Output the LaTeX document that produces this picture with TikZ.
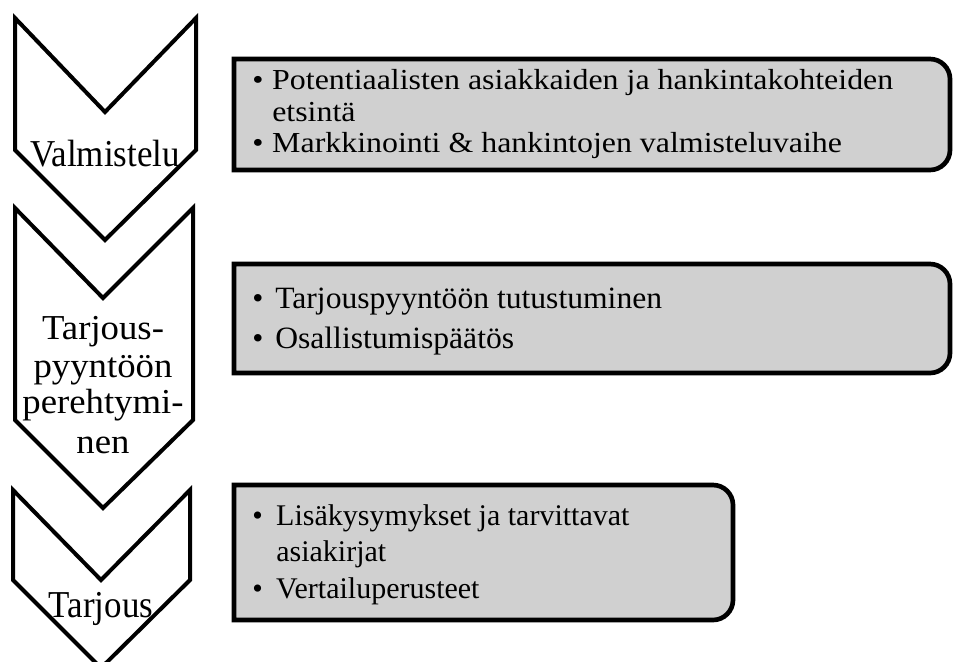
\documentclass[tikz,border=0pt]{standalone}
\usepackage{fontspec}
\setmainfont{Liberation Serif}
\newfontfamily\labfont[FakeStretch=0.92]{Liberation Serif}
\newfontfamily\labwidefont[FakeStretch=1.05]{Liberation Serif}
\newfontfamily\itemwidefont[FakeStretch=1.1]{Liberation Serif}
\newfontfamily\itemfont[FakeStretch=1.02]{Liberation Serif}
\usepackage{tikz}
\usetikzlibrary{positioning}
\definecolor{boxgray}{RGB}{208,208,208}

\begin{document}
\begin{tikzpicture}[x=0.75pt, y=-0.75pt,
  chevron/.style={draw=black, line width=3pt, fill=white},
  stagebox/.style={draw=black, line width=3.5pt, fill=boxgray},
  stagelab/.style={inner sep=0pt, anchor=base},
  itemtxt/.style={inner sep=0pt, anchor=base west}]

\useasboundingbox (0,0) rectangle (953,661);

% Chevrons (top, notch, side bottom, left, right, middle)
\foreach \t/\n/\b/\l/\r/\c in {18/112/150/15/196/105, 208/298/420/15/193/103, 490/580/580/13/190/101} {
    \draw[chevron] (\l,\t) -- (\c,\n) -- (\r,\t) -- (\r,\b) -- (\c,{\b+(\c-\l)}) -- (\l,\b) -- cycle;
}

% Grey boxes, rounded on the right only
\foreach \t/\b/\r in {59/170/950, 264/373/950, 485/620/733} {
    \draw[stagebox] (234,\t) -- ({\r-20},\t) .. controls ({\r-9},\t) and (\r,{\t+9}) .. (\r,{\t+20})
        -- (\r,{\b-20}) .. controls (\r,{\b-9}) and ({\r-9},\b) .. ({\r-20},\b) -- (234,\b) -- cycle;
}

% Stage labels
\node[stagelab, font=\labfont\fontsize{28.5pt}{34pt}\selectfont] (valm) at (105,166) {Valmistelu};
\foreach \y/\t [count=\i] in {339/Tarjous-, 377/pyyntöön, 413/perehtymi-, 453/nen} {
    \node[stagelab, font=\labwidefont\fontsize{26.25pt}{28.5pt}\selectfont] (pere\i) at (103,\y) {\t};
}
\node[stagelab, font=\labfont\fontsize{28.5pt}{34pt}\selectfont] (tarj) at (101,617) {Tarjous};

% Box 1 items
\node[itemtxt, font=\itemwidefont\fontsize{21.75pt}{23.6pt}\selectfont] (item1a) at (252,89)
    {\makebox[15pt][l]{•}Potentiaalisten asiakkaiden ja hankintakohteiden};
\node[itemtxt, font=\itemwidefont\fontsize{21.75pt}{23.6pt}\selectfont] (item1b) at (272,121) {etsintä};
\node[itemtxt, font=\itemwidefont\fontsize{21.75pt}{23.6pt}\selectfont] (item1c) at (252,152)
    {\makebox[15pt][l]{•}Markkinointi \& hankintojen valmisteluvaihe};

% Box 2 items
\node[itemtxt, font=\itemfont\fontsize{23.25pt}{30pt}\selectfont] (item2a) at (252,308)
    {\makebox[17.25pt][l]{•}Tarjouspyyntöön tutustuminen};
\node[itemtxt, font=\itemfont\fontsize{23.25pt}{30pt}\selectfont] (item2b) at (252,348)
    {\makebox[17.25pt][l]{•}Osallistumispäätös};

% Box 3 items
\node[itemtxt, font=\rmfamily\fontsize{22.5pt}{27pt}\selectfont] (item3a) at (252,525)
    {\makebox[18pt][l]{•}Lisäkysymykset ja tarvittavat};
\node[itemtxt, font=\rmfamily\fontsize{22.5pt}{27pt}\selectfont] (item3b) at (276,561) {asiakirjat};
\node[itemtxt, font=\rmfamily\fontsize{22.5pt}{27pt}\selectfont] (item3c) at (252,598)
    {\makebox[18pt][l]{•}Vertailuperusteet};

\end{tikzpicture}
\end{document}
